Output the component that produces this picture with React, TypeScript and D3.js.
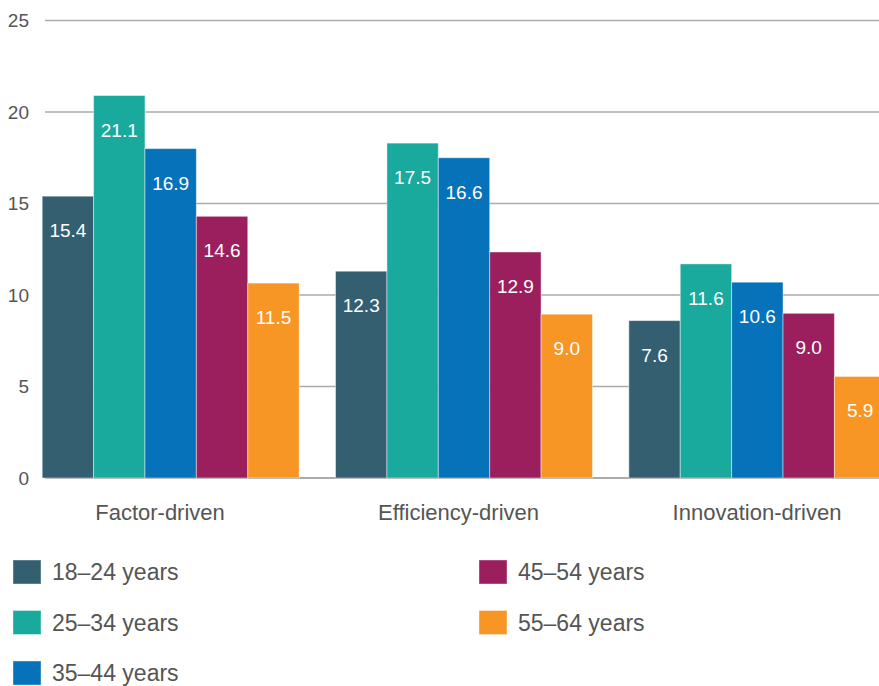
import React from "react";
import * as d3 from "d3";

const categories = ["Factor-driven", "Efficiency-driven", "Innovation-driven"];
const seriesNames = ["18–24 years", "25–34 years", "35–44 years", "45–54 years", "55–64 years"];
const seriesColors = ["#335f71", "#1aa99d", "#0672b9", "#9b1f5c", "#f79525"];
// bar heights as drawn
const age18_24 = [15.4, 11.3, 8.6];
const age25_34 = [20.9, 18.3, 11.7];
const age35_44 = [18.0, 17.5, 10.7];
const age45_54 = [14.3, 12.35, 9.0];
const age55_64 = [10.65, 8.95, 5.55];
// printed value labels
const label18_24 = ["15.4", "12.3", "7.6"];
const label25_34 = ["21.1", "17.5", "11.6"];
const label35_44 = ["16.9", "16.6", "10.6"];
const label45_54 = ["14.6", "12.9", "9.0"];
const label55_64 = ["11.5", "9.0", "5.9"];
const yTicks = [0, 5, 10, 15, 20, 25];

const W = 879;
const H = 686;
const FONT = "'Liberation Sans', Arial, sans-serif";

export default function App() {
  const values = [age18_24, age25_34, age35_44, age45_54, age55_64];
  const labels = [label18_24, label25_34, label35_44, label45_54, label55_64];

  const x0 = d3.scaleBand<string>().domain(categories).range([24, 904]).paddingInner(0.124).paddingOuter(0.062);
  const x1 = d3.scaleBand<string>().domain(seriesNames).range([0, x0.bandwidth()]).padding(0);
  const xLab = d3.scalePoint<string>().domain(categories).range([160, 757]);
  const y = d3.scaleLinear().domain([0, 25]).range([478, 20.5]);

  const legendPos = [
    { x: 13, y: 560 },
    { x: 13, y: 610.5 },
    { x: 13, y: 661 },
    { x: 479, y: 560 },
    { x: 479, y: 610.5 },
  ];

  return (
    <svg
      width={W}
      height={H}
      style={{ position: "absolute", left: 0, top: 0, display: "block", background: "#fff" }}
      fontFamily={FONT}
    >
      {yTicks.map((t) => (
        <g key={t}>
          <line x1={45} x2={W} y1={y(t)} y2={y(t)} stroke="#ababab" strokeWidth={t === 0 ? 2 : 1.6} />
          <text x={29} y={y(t)} dy="0.36em" textAnchor="end" fontSize={19} fill="#555">
            {t}
          </text>
        </g>
      ))}
      {categories.map((c, ci) => (
        <g key={c} transform={`translate(${x0(c)},0)`}>
          {seriesNames.map((s, si) => {
            const v = values[si][ci];
            const bx = x1(s)!;
            const bw = x1.bandwidth();
            const top = y(v);
            return (
              <g key={s}>
                <rect
                  x={bx}
                  y={top}
                  width={bw}
                  height={y(0) - top}
                  fill={seriesColors[si]}
                  stroke="rgba(255,255,255,0.45)"
                  strokeWidth={1}
                />
                <text x={bx + bw / 2} y={top + 41} textAnchor="middle" fontSize={19} fill="#fff">
                  {labels[si][ci]}
                </text>
              </g>
            );
          })}
        </g>
      ))}
      {categories.map((c) => (
        <text key={c} x={xLab(c)} y={520} textAnchor="middle" fontSize={22} fill="#555">
          {c}
        </text>
      ))}
      {seriesNames.map((s, i) => (
        <g key={s} transform={`translate(${legendPos[i].x},${legendPos[i].y})`}>
          <rect x={0} y={0} width={28} height={24} fill={seriesColors[i]} stroke="rgba(255,255,255,0.4)" strokeWidth={1} />
          <text x={39} y={12} dy="0.36em" fontSize={23} fill="#555">
            {s}
          </text>
        </g>
      ))}
    </svg>
  );
}
